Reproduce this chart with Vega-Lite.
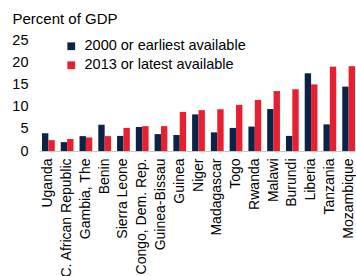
{
  "$schema": "https://vega.github.io/schema/vega-lite/v6.json",
  "width": 319,
  "height": 111,
  "autosize": {"type": "none"},
  "padding": {"left": 39, "top": 40, "right": 0, "bottom": 125},
  "background": "white",
  "config": {
    "font": "Liberation Sans",
    "view": {"stroke": null}
  },
  "data": {
    "values": [
      {"country": "Uganda", "series": "2000 or earliest available", "value": 4.0},
      {"country": "Uganda", "series": "2013 or latest available", "value": 2.45},
      {"country": "C. African Republic", "series": "2000 or earliest available", "value": 2.0},
      {"country": "C. African Republic", "series": "2013 or latest available", "value": 2.7},
      {"country": "Gambia, The", "series": "2000 or earliest available", "value": 3.35},
      {"country": "Gambia, The", "series": "2013 or latest available", "value": 3.05},
      {"country": "Benin", "series": "2000 or earliest available", "value": 5.9},
      {"country": "Benin", "series": "2013 or latest available", "value": 3.35},
      {"country": "Sierra Leone", "series": "2000 or earliest available", "value": 3.4},
      {"country": "Sierra Leone", "series": "2013 or latest available", "value": 5.2},
      {"country": "Congo, Dem. Rep.", "series": "2000 or earliest available", "value": 5.4},
      {"country": "Congo, Dem. Rep.", "series": "2013 or latest available", "value": 5.6},
      {"country": "Guinea-Bissau", "series": "2000 or earliest available", "value": 3.8},
      {"country": "Guinea-Bissau", "series": "2013 or latest available", "value": 5.6},
      {"country": "Guinea", "series": "2000 or earliest available", "value": 3.6},
      {"country": "Guinea", "series": "2013 or latest available", "value": 8.8},
      {"country": "Niger", "series": "2000 or earliest available", "value": 8.25},
      {"country": "Niger", "series": "2013 or latest available", "value": 9.2},
      {"country": "Madagascar", "series": "2000 or earliest available", "value": 4.2},
      {"country": "Madagascar", "series": "2013 or latest available", "value": 9.4},
      {"country": "Togo", "series": "2000 or earliest available", "value": 5.2},
      {"country": "Togo", "series": "2013 or latest available", "value": 10.4},
      {"country": "Rwanda", "series": "2000 or earliest available", "value": 5.5},
      {"country": "Rwanda", "series": "2013 or latest available", "value": 11.5},
      {"country": "Malawi", "series": "2000 or earliest available", "value": 9.45},
      {"country": "Malawi", "series": "2013 or latest available", "value": 13.5},
      {"country": "Burundi", "series": "2000 or earliest available", "value": 3.4},
      {"country": "Burundi", "series": "2013 or latest available", "value": 13.9},
      {"country": "Liberia", "series": "2000 or earliest available", "value": 17.5},
      {"country": "Liberia", "series": "2013 or latest available", "value": 15.0},
      {"country": "Tanzania", "series": "2000 or earliest available", "value": 6.0},
      {"country": "Tanzania", "series": "2013 or latest available", "value": 19.0},
      {"country": "Mozambique", "series": "2000 or earliest available", "value": 14.5},
      {"country": "Mozambique", "series": "2013 or latest available", "value": 19.1}
    ]
  },
  "mark": {"type": "bar"},
  "encoding": {
    "x": {
      "field": "country",
      "type": "nominal",
      "sort": null,
      "scale": {"paddingInner": 0.32, "paddingOuter": 0.16},
      "axis": {
        "title": null,
        "labelAngle": -90,
        "labelFontSize": 14,
        "labelColor": "#000000",
        "labelPadding": 7,
        "ticks": false,
        "domainColor": "#c8c8c8",
        "domainWidth": 1,
        "labelOverlap": false,
        "labelLimit": 0
      }
    },
    "xOffset": {"field": "series", "type": "nominal"},
    "y": {
      "field": "value",
      "type": "quantitative",
      "scale": {"domain": [0, 25], "nice": false},
      "axis": {
        "values": [0, 5, 10, 15, 20, 25],
        "title": "Percent of GDP",
        "titleAngle": 0,
        "titleAlign": "left",
        "titleBaseline": "alphabetic",
        "titleX": -27,
        "titleY": -17,
        "titleFontSize": 15,
        "titleFontWeight": "normal",
        "titleColor": "#000000",
        "labelFontSize": 14.5,
        "labelColor": "#000000",
        "labelPadding": 11,
        "ticks": false,
        "domain": false,
        "grid": false
      }
    },
    "color": {
      "field": "series",
      "type": "nominal",
      "scale": {"range": ["#0b2345", "#e81f30"]},
      "legend": {
        "title": null,
        "orient": "none",
        "legendX": 25,
        "legendY": -1,
        "symbolType": "square",
        "symbolSize": 60,
        "symbolStrokeWidth": 0,
        "labelFontSize": 14.5,
        "labelColor": "#000000",
        "labelLimit": 0,
        "rowPadding": 4,
        "labelOffset": 6
      }
    }
  }
}
